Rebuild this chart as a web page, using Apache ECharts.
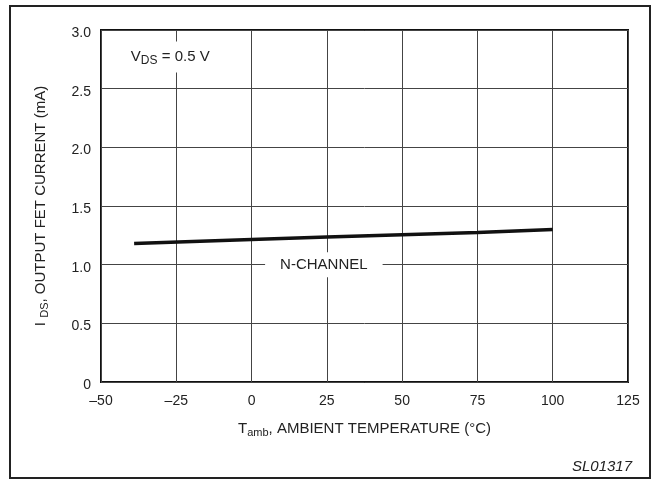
<!DOCTYPE html>
<html>
<head>
<meta charset="utf-8">
<script src="https://cdn.jsdelivr.net/npm/echarts@6/dist/echarts.min.js"></script>
<style>html,body{margin:0;padding:0;background:#fff}#c{width:654px;height:480px}</style>
</head>
<body>
<div id="c"></div>
<script>
var temps = [-39, 0, 25, 50, 75, 100];
var currents = [1.18, 1.215, 1.235, 1.255, 1.275, 1.30];
var xTicks = [-50, -25, 0, 25, 50, 75, 100, 125];
var yTicks = [0, 0.5, 1.0, 1.5, 2.0, 2.5, 3.0];
var curveLabel = 'N-CHANNEL';
var curveLabelPos = [24, 1.0];
var condLabelPos = [-27, 2.77];

var FONT = '"Liberation Sans", Arial, Helvetica, sans-serif';
var TXT = '#222';
var chart = echarts.init(document.getElementById('c'));
chart.setOption({
  animation: false,
  backgroundColor: '#fff',
  grid: {left: 101, right: 26, top: 30, bottom: 98, show: true, borderColor: '#111', borderWidth: 2},
  xAxis: {
    type: 'value', min: xTicks[0], max: xTicks[xTicks.length - 1], interval: 25,
    axisLine: {show: false}, axisTick: {show: false},
    splitLine: {show: true, lineStyle: {color: '#444', width: 1}},
    axisLabel: {
      color: TXT, fontFamily: FONT, fontSize: 14, margin: 12,
      formatter: function (v) { return v < 0 ? '\u2013' + Math.abs(v) : String(v); }
    },
    name: '{a|T}{s|amb}{a|, AMBIENT TEMPERATURE (\u00B0C)}',
    nameLocation: 'middle', nameGap: 38,
    nameTextStyle: {
      color: TXT, fontFamily: FONT,
      rich: {
        a: {fontSize: 15, color: TXT, fontFamily: FONT},
        s: {fontSize: 11, color: TXT, fontFamily: FONT, padding: [7, 0, 0, 0]}
      }
    }
  },
  yAxis: {
    type: 'value', min: yTicks[0], max: yTicks[yTicks.length - 1], interval: 0.5,
    axisLine: {show: false}, axisTick: {show: false},
    splitLine: {show: true, lineStyle: {color: '#444', width: 1}},
    axisLabel: {
      color: TXT, fontFamily: FONT, fontSize: 14, margin: 10,
      verticalAlign: 'top', lineHeight: 6,
      formatter: function (v) { return v === 0 ? '0' : v.toFixed(1); }
    },
    name: '{a|I }{s|DS}{a|, OUTPUT FET CURRENT (mA)}',
    nameLocation: 'middle', nameGap: 51,
    nameTextStyle: {
      color: TXT, fontFamily: FONT,
      rich: {
        a: {fontSize: 15, color: TXT, fontFamily: FONT},
        s: {fontSize: 11, color: TXT, fontFamily: FONT, padding: [7, 0, 0, 0]}
      }
    }
  },
  series: [{
    type: 'line',
    data: temps.map(function (t, i) { return [t, currents[i]]; }),
    showSymbol: false, smooth: false,
    lineStyle: {color: '#111', width: 3.5},
    markPoint: {
      symbol: 'rect', symbolSize: 0,
      label: {show: true, position: 'inside', color: TXT, fontFamily: FONT, fontSize: 15},
      data: [
        {coord: curveLabelPos, value: curveLabel,
          label: {formatter: curveLabel, backgroundColor: '#fff', padding: [5, 15, 5, 15]}},
        {coord: condLabelPos, value: 0.5,
          label: {
            formatter: '{a|V}{s|DS}{a| = 0.5 V}', backgroundColor: '#fff', padding: [6, 3, 6, 3],
            rich: {
              a: {fontSize: 15, color: TXT, fontFamily: FONT},
              s: {fontSize: 12, color: TXT, fontFamily: FONT, padding: [7, 0, 0, 0]}
            }
          }}
      ]
    }
  }],
  graphic: [
    {type: 'rect', shape: {x: 10, y: 6, width: 640, height: 472}, silent: true, z: -1,
      style: {fill: 'none', stroke: '#222', lineWidth: 2}},
    {type: 'text', right: 22, top: 459,
      style: {text: 'SL01317', fill: TXT, font: 'italic 15px ' + FONT}}
  ]
});
</script>
</body>
</html>
